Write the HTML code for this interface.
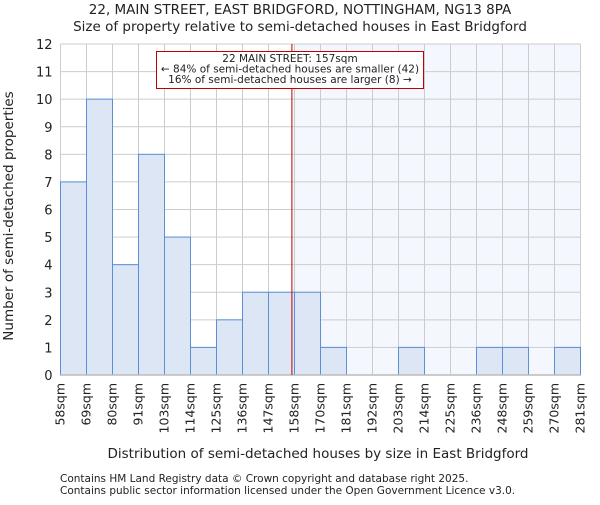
<!DOCTYPE html>
<html><head><meta charset="utf-8"><style>
body{margin:0;background:#fff}
svg text{font-family:"DejaVu Sans","Liberation Sans",sans-serif;fill:#222}
</style></head><body>
<svg id="chart" width="600" height="500">
<text x="300" y="14" text-anchor="middle" font-size="13.5">22, MAIN STREET, EAST BRIDGFORD, NOTTINGHAM, NG13 8PA</text>
<text x="300" y="31" text-anchor="middle" font-size="13.5">Size of property relative to semi-detached houses in East Bridgford</text>
<g id="plot"></g>
<text x="318" y="458" text-anchor="middle" font-size="13.5">Distribution of semi-detached houses by size in East Bridgford</text>
<text transform="translate(13,216) rotate(-90)" text-anchor="middle" font-size="13.5">Number of semi-detached properties</text>
<text x="60" y="482" font-size="10.5" fill="#444">Contains HM Land Registry data © Crown copyright and database right 2025.</text>
<text x="60" y="494" font-size="10.5" fill="#444">Contains public sector information licensed under the Open Government Licence v3.0.</text>
</svg>
<script>
const binLabels=["58sqm","69sqm","80sqm","91sqm","103sqm","114sqm","125sqm","136sqm","147sqm","158sqm","170sqm","181sqm","192sqm","203sqm","214sqm","225sqm","236sqm","248sqm","259sqm","270sqm","281sqm"];
const counts=[7,10,4,8,5,1,2,3,3,3,1,0,0,1,0,0,1,1,0,1];
const yTicks=[0,1,2,3,4,5,6,7,8,9,10,11,12];
const propertyBin=8.9;
const NS="http://www.w3.org/2000/svg";
const L=60.5,R=580.5,T=44,B=375,yMax=12;
const bw=(R-L)/counts.length;
const xs=i=>L+i*bw;
const ys=v=>B-v/yMax*(B-T);
const g=document.getElementById('plot');
function mk(t,a){const e=document.createElementNS(NS,t);for(const k in a)e.setAttribute(k,a[k]);g.appendChild(e);return e;}
const px=xs(propertyBin);
let e=mk('rect',{x:px,y:T,width:R-px,height:B-T,fill:'#f4f7fd'});


yTicks.forEach(v=>{
 let l=mk('line',{x1:L,x2:R,y1:ys(v),y2:ys(v),stroke:'#cccccc','stroke-width':1});
 
 
 let t=mk('text',{x:L-8,y:ys(v)+5,'text-anchor':'end','font-size':13});
 t.textContent=v;
 
 
});
binLabels.forEach((s,i)=>{
 let l=mk('line',{x1:xs(i),x2:xs(i),y1:T,y2:B,stroke:'#cccccc','stroke-width':1});
 
 
 let t=mk('text',{transform:`translate(${xs(i)+4},383) rotate(-90)`,'text-anchor':'end','font-size':12.5});
 t.textContent=s;
 
 
});
counts.forEach((c,i)=>{
 if(c<=0)return;
 let r=mk('rect',{x:xs(i),y:ys(c),width:bw,height:B-ys(c),fill:'#dce6f4',stroke:'#5b8fd6','stroke-width':1});
 
 
});
e=mk('line',{x1:L,x2:R,y1:B,y2:B,stroke:'#bbbbbb','stroke-width':1.5});


e=mk('line',{x1:px,x2:px,y1:T,y2:B,stroke:'#c00000','stroke-width':1});


e=mk('rect',{x:156.5,y:51.5,width:267,height:37,fill:'#fff',stroke:'#c00000','stroke-width':1});


["22 MAIN STREET: 157sqm","← 84% of semi-detached houses are smaller (42)","16% of semi-detached houses are larger (8) →"].forEach((s,i)=>{
 let t=mk('text',{x:290,y:62+i*10.5,'text-anchor':'middle','font-size':10.5});
 t.textContent=s;
 
 
});
</script>
</body></html>
